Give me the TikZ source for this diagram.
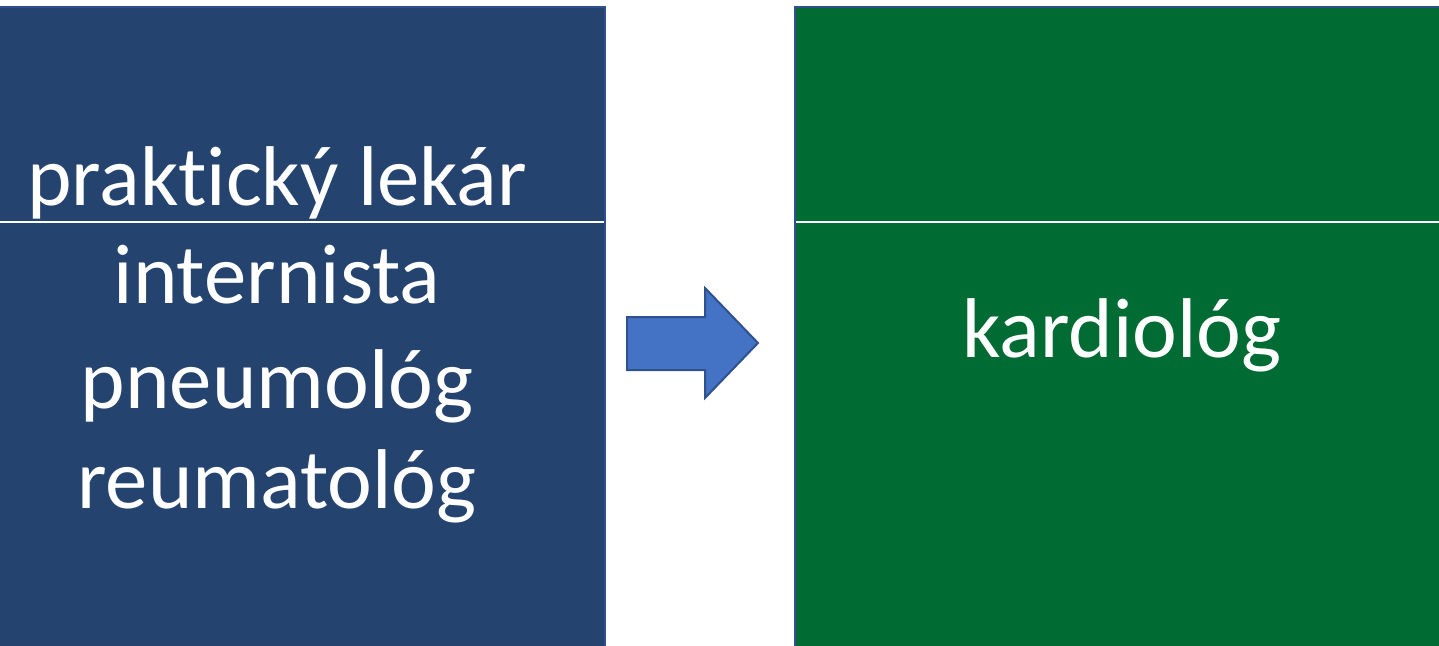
\documentclass[tikz,border=0pt]{standalone}
\usepackage{fontspec}
\setmainfont{Carlito}[Ligatures=NoCommon]
\definecolor{boxblue}{HTML}{25436F}
\definecolor{boxgreen}{HTML}{006B32}
\definecolor{edgeblue}{HTML}{2F528F}
\definecolor{arrowblue}{HTML}{4472C4}
\tikzset{
  panel/.style={draw=edgeblue, line width=1pt},
  divider/.style={draw=white, line width=0.6pt},
  label/.style={text=white, inner sep=0pt, anchor=base, font=\fontsize{42.4}{50}\selectfont},
}
\begin{document}
\begin{tikzpicture}[x=0.5pt, y=-0.5pt]
\useasboundingbox (0,0) rectangle (1439,645);
% the two panels, running off the bottom edge
\fill[boxblue, panel] (-5,7) rectangle (605,660);
\fill[boxgreen, panel] (795,7) rectangle (1445,660);
\draw[divider] (-5,222) -- (604,222); % edit here for the split lines
\draw[divider] (796,222) -- (1445,222);
% left panel text
\node[label] (gp) at (277,205) {praktický lekár};
\foreach \t/\n/\y in {internista/intern/303, pneumológ/pneumo/408, reumatológ/reuma/508}
\node[label] (\n) at (277,\y) {\t};
% right panel text
\node[label] (cardio) at (1122,357) {kardiológ};
% block arrow in between
\filldraw[fill=arrowblue, draw=edgeblue, line width=1pt, line join=miter]
  (627,317) -- (705,317) -- (705,288) -- (758,343) -- (705,398) -- (705,370) -- (627,370) -- cycle;
\end{tikzpicture}
\end{document}
